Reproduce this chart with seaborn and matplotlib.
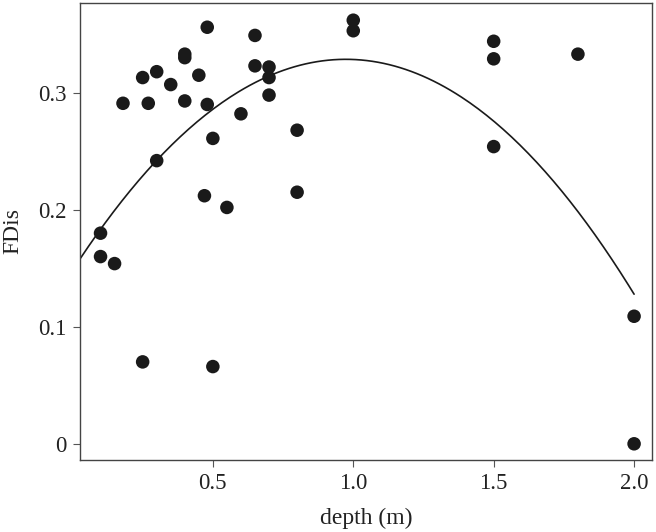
import numpy as np
import pandas as pd
import matplotlib
matplotlib.use("Agg")
import matplotlib.pyplot as plt
import seaborn as sns

# values
depth = [0.10, 0.10, 0.15, 0.18, 0.25, 0.27, 0.30, 0.30, 0.35, 0.40,
         0.40, 0.40, 0.45, 0.48, 0.48, 0.50, 0.47, 0.55, 0.60, 0.65,
         0.65, 0.70, 0.70, 0.70, 0.80, 0.80, 0.25, 0.50, 1.00, 1.00,
         1.50, 1.50, 1.50, 1.80, 2.00, 2.00]
fdis = [0.180, 0.160, 0.154, 0.291, 0.313, 0.291, 0.318, 0.242, 0.307, 0.333,
        0.330, 0.293, 0.315, 0.356, 0.290, 0.261, 0.212, 0.202, 0.282, 0.349,
        0.323, 0.322, 0.313, 0.298, 0.268, 0.215, 0.070, 0.066, 0.362, 0.353,
        0.344, 0.329, 0.254, 0.333, 0.109, 0.000]

x_ticks = [0.5, 1.0, 1.5, 2.0]
x_ticklabels = ["0.5", "1.0", "1.5", "2.0"]
y_ticks = [0.0, 0.1, 0.2, 0.3]
y_ticklabels = ["0", "0.1", "0.2", "0.3"]

df = pd.DataFrame({"depth": depth, "FDis": fdis})

sns.set_style("ticks")
plt.rcParams["font.family"] = ["Liberation Serif", "DejaVu Serif"]

fig = plt.figure(figsize=(6.56, 5.32), dpi=100)
ax = fig.add_axes([0.122, 0.135, 0.872, 0.860])

xmin, xmax = 0.027, 2.064
ax.set_xlim(xmin, xmax)
ax.set_ylim(-0.014, 0.377)

# quadratic fit, drawn from the left edge to the deepest sample
coef = np.polyfit(df["depth"], df["FDis"], 2)
xs = np.linspace(xmin, df["depth"].max(), 200)
sns.lineplot(x=xs, y=np.polyval(coef, xs), ax=ax, color="#1a1a1a", lw=1.2)

sns.scatterplot(data=df, x="depth", y="FDis", ax=ax, color="#1a1a1a",
                s=95, edgecolor="none", zorder=3)

ax.set_xticks(x_ticks)
ax.set_xticklabels(x_ticklabels)
ax.set_yticks(y_ticks)
ax.set_yticklabels(y_ticklabels)
ax.tick_params(labelsize=16.5, colors="#555555", labelcolor="#222222",
               length=5, width=0.8, pad=4.5)
for s in ax.spines.values():
    s.set_color("#444444")
    s.set_linewidth(1.0)

ax.set_xlabel("depth (m)", fontsize=17, color="#222222", labelpad=10)
ax.set_ylabel("FDis", fontsize=17, color="#222222", labelpad=11)

fig.savefig("out.png", dpi=100)
